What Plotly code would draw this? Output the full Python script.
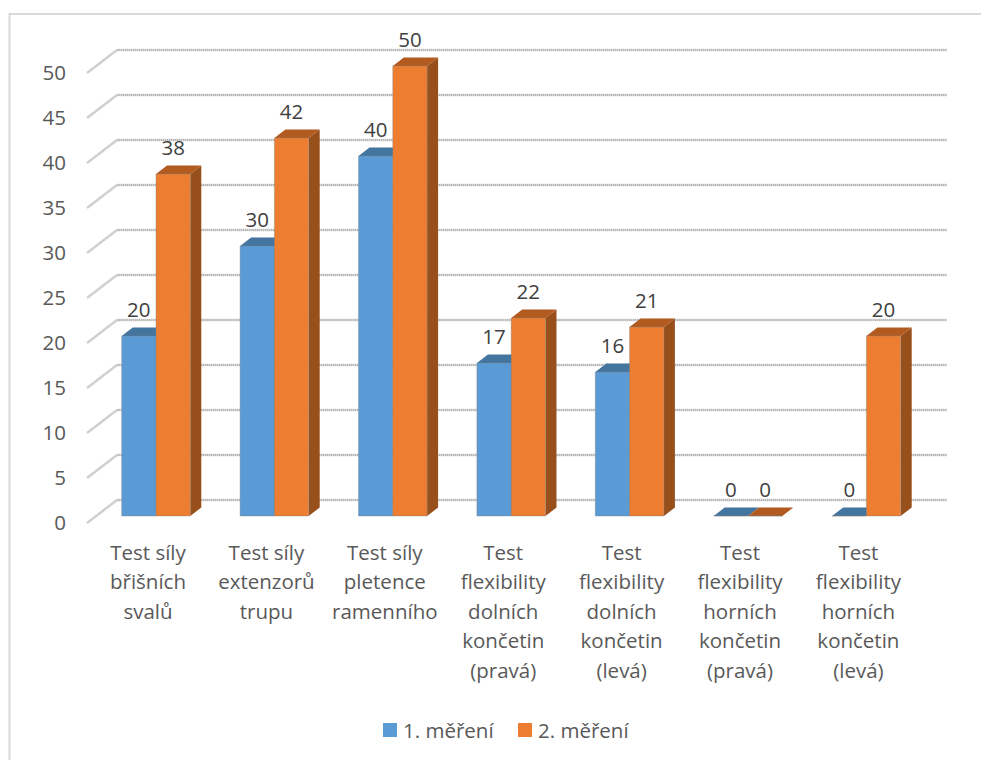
import plotly.graph_objects as go

# Chart data
categories = [
    "Test síly<br>břišních<br>svalů",
    "Test síly<br>extenzorů<br>trupu",
    "Test síly<br>pletence<br>ramenního",
    "Test<br>flexibility<br>dolních<br>končetin<br>(pravá)",
    "Test<br>flexibility<br>dolních<br>končetin<br>(levá)",
    "Test<br>flexibility<br>horních<br>končetin<br>(pravá)",
    "Test<br>flexibility<br>horních<br>končetin<br>(levá)",
]
series_names = ["1. měření", "2. měření"]
mereni_1 = [20, 30, 40, 17, 16, 0, 0]
mereni_2 = [38, 42, 50, 22, 21, 0, 20]
y_ticks = [0, 5, 10, 15, 20, 25, 30, 35, 40, 45, 50]

FONT = "Open Sans"
TEXT_SIZE = 20.5
W, H = 981, 760

# Pixel scale of the two axes, and the oblique projection built on it
PX_X = 118.4   # pixels per category
PX_Y = 9.0     # pixels per value unit
X0_PX = 156.0  # pixel column of the first category centre
Y0_PX = 516.0  # pixel row of value 0 on the front plane
BAR_W = 34.3 / PX_X
BAR_DX, BAR_DY = 11 / PX_X, 8.5 / PX_Y     # depth of one bar
WALL_DX, WALL_DY = 30 / PX_X, 23 / PX_Y    # depth of the floor
WALL_FRONT_X = (87 - X0_PX) / PX_X
WALL_FRONT_DY = -7 / PX_Y                  # front edge of the wall sits below the bars
WALL_RIGHT_X = (947 - X0_PX) / PX_X

# Plot area in pixels
L, R, T, B = 70, 965, 30, 530
x_range = [(L - X0_PX) / PX_X, (R - X0_PX) / PX_X]
y_range = [(Y0_PX - B) / PX_Y, (Y0_PX - T) / PX_Y]

BLUE, ORANGE = "#5B9BD5", "#ED7D31"
BLUE_TOP, BLUE_SIDE = "#44759F", "#3A6690"
ORANGE_TOP, ORANGE_SIDE = "#B25A20", "#97501C"

fig = go.Figure()

# Wall gridlines: slanted part on the side wall plus the long part on the back wall
gx, gy, sx, sy = [], [], [], []
for t in y_ticks:
    yf = t + WALL_FRONT_DY
    yb = yf + WALL_DY
    sx += [WALL_FRONT_X, WALL_FRONT_X + WALL_DX, None]
    sy += [yf, yb, None]
    gx += [WALL_FRONT_X + WALL_DX, WALL_RIGHT_X, None]
    gy += [yb, yb, None]

common = dict(mode="lines", hoverinfo="skip", showlegend=False)
fig.add_trace(go.Scatter(x=sx, y=sy, line=dict(color="#D0D0D0", width=2.5), **common))
fig.add_trace(go.Scatter(x=gx, y=gy, line=dict(color="#D6D6D6", width=2.5), **common))
fig.add_trace(go.Scatter(x=gx, y=gy, line=dict(color="#989898", width=1, dash="1px,1px"), **common))


def extrusion(values, shift):
    """Top and side faces of every bar of one series."""
    tx, ty, ex, ey = [], [], [], []
    for i, v in enumerate(values):
        a = i + shift
        b = a + BAR_W
        tx += [a, a + BAR_DX, b + BAR_DX, b, a, None]
        ty += [v, v + BAR_DY, v + BAR_DY, v, v, None]
        ex += [b, b + BAR_DX, b + BAR_DX, b, b, None]
        ey += [0, BAR_DY, v + BAR_DY, v, 0, None]
    return tx, ty, ex, ey


faces = dict(mode="lines", line=dict(width=0), fill="toself", hoverinfo="skip", showlegend=False)
for values, shift, top, side in [
    (mereni_1, -BAR_W, BLUE_TOP, BLUE_SIDE),
    (mereni_2, 0.0, ORANGE_TOP, ORANGE_SIDE),
]:
    tx, ty, ex, ey = extrusion(values, shift)
    fig.add_trace(go.Scatter(x=ex, y=ey, fillcolor=side, **faces))
    fig.add_trace(go.Scatter(x=tx, y=ty, fillcolor=top, **faces))

# Front faces live on overlaying axes so that they cover the extrusions
positions = list(range(len(categories)))
for name, values, shift, color in [
    (series_names[0], mereni_1, -BAR_W, BLUE),
    (series_names[1], mereni_2, 0.0, ORANGE),
]:
    fig.add_trace(go.Bar(
        x=[p + shift for p in positions], y=values, width=BAR_W, offset=0,
        name=name, marker=dict(color=color, line=dict(color="rgba(130,130,130,0.4)", width=1)),
        xaxis="x2", yaxis="y2", hoverinfo="skip", showlegend=False,
    ))
    fig.add_trace(go.Scatter(
        x=[p + shift + BAR_W / 2 for p in positions],
        y=[v + 24 / PX_Y for v in values],
        text=[str(v) for v in values], mode="text", textposition="middle center",
        textfont=dict(family=FONT, size=TEXT_SIZE, color="#404040"),
        xaxis="x2", yaxis="y2", showlegend=False, hoverinfo="skip",
    ))

# Taller tick font only sets the line pitch; each line is drawn at reading size
ticktext = [
    "<br>".join(f'<span style="font-size:{TEXT_SIZE}px">{line}</span>' for line in c.split("<br>"))
    for c in categories
]

# Compact legend: swatch and label placed closer than the built-in legend allows
legend_items = [(383, series_names[0], BLUE), (518, series_names[1], ORANGE)]
legend_y = 730
shapes = [dict(
    type="rect", xref="paper", yref="paper", layer="below",
    x0=9.5 / W, x1=1.01, y0=-0.01, y1=1 - 14 / H,
    line=dict(color="#D9D9D9", width=2), fillcolor="white",
)]
annotations = []
for left, label, color in legend_items:
    shapes.append(dict(
        type="rect", xref="paper", yref="paper", line=dict(width=0), fillcolor=color,
        x0=left / W, x1=(left + 14) / W, y0=1 - (legend_y + 7) / H, y1=1 - (legend_y - 7) / H,
    ))
    annotations.append(dict(
        xref="paper", yref="paper", x=(left + 18) / W, y=1 - legend_y / H,
        xanchor="left", yanchor="middle", showarrow=False, text=label,
        font=dict(family=FONT, size=TEXT_SIZE, color="#595959"),
    ))

fig.update_layout(
    width=W, height=H, margin=dict(l=0, r=0, t=0, b=0),
    paper_bgcolor="white", plot_bgcolor="rgba(0,0,0,0)",
    barmode="overlay", font=dict(family=FONT), showlegend=False,
    xaxis=dict(
        domain=[L / W, R / W], range=x_range, showgrid=False, zeroline=False, showline=False,
        tickmode="array", tickvals=[p - 8 / PX_X for p in positions], ticktext=ticktext,
        tickfont=dict(family=FONT, size=22.7, color="#595959"), ticklen=0, tickangle=0,
        ticklabelstandoff=6, automargin=False,
    ),
    yaxis=dict(
        domain=[1 - B / H, 1 - T / H], range=y_range, showgrid=False, zeroline=False, showline=False,
        tickmode="array", tickvals=y_ticks, ticktext=[str(t) for t in y_ticks],
        tickfont=dict(family=FONT, size=TEXT_SIZE, color="#595959"), ticklen=0,
        ticklabelshift=7, ticklabelstandoff=3, automargin=False,
    ),
    xaxis2=dict(overlaying="x", range=x_range, domain=[L / W, R / W], visible=False),
    yaxis2=dict(overlaying="y", range=y_range, domain=[1 - B / H, 1 - T / H], visible=False),
    shapes=shapes, annotations=annotations,
)

fig.write_html("out.html")
